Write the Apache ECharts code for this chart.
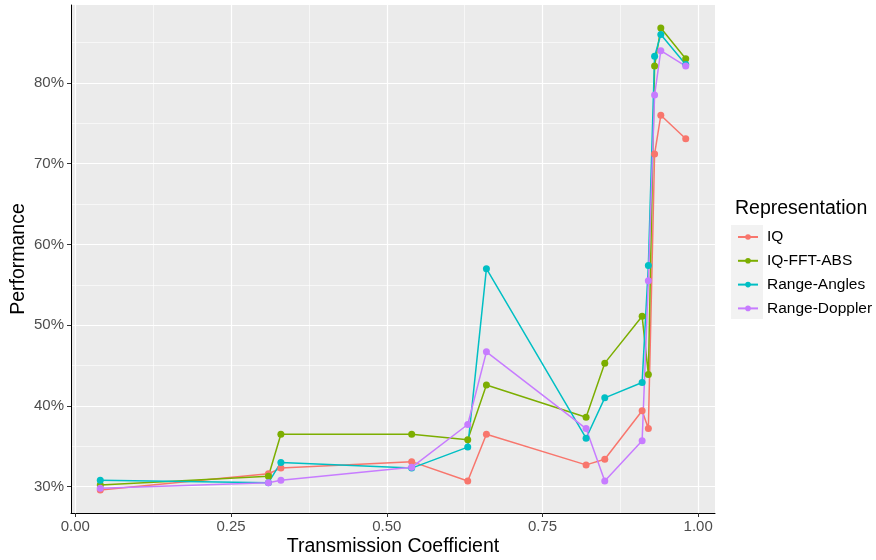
<!DOCTYPE html>
<html>
<head>
<meta charset="utf-8">
<script src="https://cdn.jsdelivr.net/npm/echarts@6/dist/echarts.min.js"></script>
<style>
  html, body { margin: 0; padding: 0; background: #fff; }
  #charts { width: 876px; height: 560px; }
</style>
</head>
<body>
<div id="charts"></div>
<script>
// transmission coefficient (x) and performance in % per representation
var xValues = [0.04, 0.31, 0.33, 0.54, 0.63, 0.66, 0.82, 0.85, 0.91, 0.92, 0.93, 0.94, 0.98];
var iq      = [29.6, 31.6, 32.3, 33.1, 30.7, 36.5, 32.7, 33.4, 39.4, 37.2, 71.2, 76.0, 73.1];
var iqFft   = [30.2, 31.3, 36.5, 36.5, 35.8, 42.6, 38.6, 45.3, 51.1, 43.9, 82.1, 86.8, 83.0];
var angles  = [30.8, 30.5, 33.0, 32.3, 34.9, 57.0, 36.0, 41.0, 42.9, 57.4, 83.3, 86.0, 82.3];
var doppler = [29.8, 30.5, 30.8, 32.4, 37.7, 46.7, 37.2, 30.7, 35.7, 55.5, 78.5, 84.0, 82.1];

var seriesNames = ['IQ', 'IQ-FFT-ABS', 'Range-Angles', 'Range-Doppler'];
var seriesColors = ['#F8766D', '#7CAE00', '#00BFC4', '#C77CFF'];

var xMajor = [0, 0.25, 0.5, 0.75, 1];
var xMinor = [0.125, 0.375, 0.625, 0.875];
var yMajor = [30, 40, 50, 60, 70, 80];
var yMinor = [35, 45, 55, 65, 75, 85];

var xMin = -0.007, xMax = 1.027;
var yMin = 26.74, yMax = 89.66;

var chartDom = document.getElementById('charts');
var myChart = echarts.init(chartDom);
var option;

function pairs(ys) {
  return xValues.map(function (x, i) { return [x, ys[i]]; });
}

var allValues = [iq, iqFft, angles, doppler];

option = {
  animation: false,
  textStyle: { fontFamily: 'Liberation Sans' },
  title: {
    text: 'Representation',
    left: 730,
    top: 194,
    textStyle: { fontSize: 19.5, fontWeight: 'normal', color: '#000', fontFamily: 'Liberation Sans' }
  },
  legend: {
    orient: 'vertical',
    left: 732,
    top: 224,
    itemWidth: 20,
    itemHeight: 7,
    itemGap: 7.8,
    data: seriesNames,
    textStyle: { fontSize: 15.5, color: '#000', padding: [0, 0, 0, 4], fontFamily: 'Liberation Sans' }
  },
  graphic: [{
    type: 'rect',
    left: 731, top: 225,
    shape: { width: 32, height: 94 },
    style: { fill: '#F2F2F2' },
    z: -1
  }],
  grid: {
    left: 71, right: 161, top: 5, bottom: 47,
    outerBoundsMode: 'none',
    show: true, backgroundColor: '#EBEBEB', borderWidth: 0
  },
  xAxis: [{
    type: 'value', min: xMin, max: xMax,
    name: 'Transmission Coefficient', nameLocation: 'middle', nameGap: 23.5,
    nameMoveOverlap: false,
    nameTextStyle: { fontSize: 19.5, color: '#000' },
    axisLine: { onZero: false, lineStyle: { color: '#000', width: 1 } },
    axisTick: { customValues: xMajor, length: 4, lineStyle: { color: '#333' } },
    axisLabel: { customValues: xMajor, color: '#4D4D4D', fontSize: 15, margin: 6,
      formatter: function (v) { return v.toFixed(2); } },
    splitLine: { show: true, lineStyle: { color: '#fff', width: 1.2 } }
  }, {
    type: 'value', min: xMin, max: xMax, position: 'bottom',
    axisLine: { show: false },
    axisTick: { show: false, customValues: xMinor },
    axisLabel: { show: false, customValues: xMinor },
    splitLine: { show: true, lineStyle: { color: '#fff', width: 0.6 } }
  }],
  yAxis: [{
    type: 'value', min: yMin, max: yMax,
    name: 'Performance', nameLocation: 'middle', nameGap: 42,
    nameMoveOverlap: false,
    nameTextStyle: { fontSize: 19.5, color: '#000' },
    axisLine: { show: true, onZero: false, lineStyle: { color: '#000', width: 1 } },
    axisTick: { show: true, customValues: yMajor, length: 4, lineStyle: { color: '#333' } },
    axisLabel: { customValues: yMajor, color: '#4D4D4D', fontSize: 15, margin: 7,
      formatter: '{value}%' },
    splitLine: { show: true, lineStyle: { color: '#fff', width: 1.2 } }
  }, {
    type: 'value', min: yMin, max: yMax, position: 'left',
    axisLine: { show: false },
    axisTick: { show: false, customValues: yMinor },
    axisLabel: { show: false, customValues: yMinor },
    splitLine: { show: true, lineStyle: { color: '#fff', width: 0.6 } }
  }],
  series: seriesNames.map(function (name, i) {
    return {
      name: name,
      type: 'line',
      xAxisIndex: 0,
      yAxisIndex: 0,
      data: pairs(allValues[i]),
      symbol: 'circle',
      symbolSize: 7,
      showAllSymbol: true,
      color: seriesColors[i],
      lineStyle: { width: 1.5, color: seriesColors[i] },
      itemStyle: { color: seriesColors[i] },
      emphasis: { disabled: true }
    };
  })
};

option && myChart.setOption(option);
</script>
</body>
</html>
